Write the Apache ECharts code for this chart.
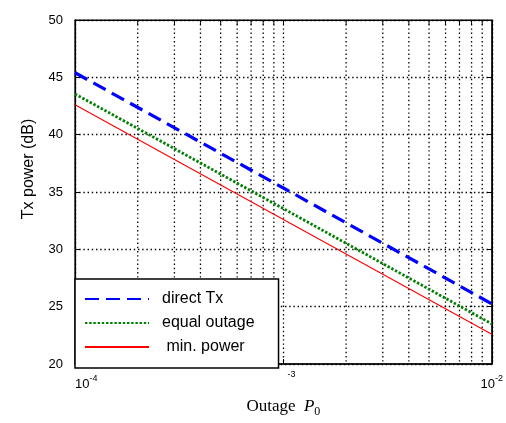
<!DOCTYPE html>
<html>
<head>
<meta charset="utf-8">
<script src="https://cdn.jsdelivr.net/npm/echarts@6/dist/echarts.min.js"></script>
<style>html,body{margin:0;padding:0;background:#fff}#c{width:506px;height:423px}</style>
</head>
<body>
<div id="c"></div>
<script>
// outage values (log axis) and Tx power in dB
const p0 = [1e-4, 1e-3, 1e-2];
const directTx = [45.4, 35.35, 25.25];
const equalOutage = [43.55, 33.55, 23.5];
const minPower = [42.6, 32.6, 22.6];
const minorGrid = [2e-4, 3e-4, 4e-4, 5e-4, 6e-4, 7e-4, 8e-4, 9e-4, 2e-3, 3e-3, 4e-3, 5e-3, 6e-3, 7e-3, 8e-3, 9e-3];
const yTicks = [20, 25, 30, 35, 40, 45, 50];

const yMin = yTicks[0], yMax = yTicks[yTicks.length - 1];
const pairs = ys => p0.map((x, i) => [x, ys[i]]);
const dots = { type: [1.4, 2.8], color: '#000', width: 1.3 };

function tickLabel(v){
  const e = Math.round(Math.log10(v));
  if (e === -3) return '{mid|-3}';
  return '{b|10}{sup|' + e + '}';
}

// dotted vertical grid at the log minor positions
function minorLine(params, api){
  const v = api.value(0);
  const a = api.coord([v, yMax]);
  const b = api.coord([v, yMin]);
  const tick = 5;
  return {
    type: 'group',
    children: [
      { type: 'line', shape: { x1: a[0], y1: a[1], x2: b[0], y2: b[1] },
        style: { stroke: '#000', lineWidth: dots.width, lineDash: dots.type } },
      { type: 'line', shape: { x1: a[0], y1: a[1], x2: a[0], y2: a[1] + tick },
        style: { stroke: '#000', lineWidth: 1 } }
    ]
  };
}

const c = echarts.init(document.getElementById('c'));
c.setOption({
  animation: false,
  grid: { left: 75, right: 9, top: 20, bottom: 56, show: true, borderColor: '#000', borderWidth: 1.2 },
  legend: {
    orient: 'vertical', left: 75, top: 279,
    padding: [12, 24, 13, 9], itemWidth: 64, itemHeight: 14, itemGap: 8,
    backgroundColor: '#fff', borderColor: '#000', borderWidth: 1.5, borderRadius: 0,
    itemStyle: { opacity: 0 },
    textStyle: { fontFamily: 'Liberation Sans', fontSize: 16, color: '#000', padding: [0, 0, 0, 8] },
    data: ['direct Tx', 'equal outage', ' min. power']
  },
  xAxis: [{
    type: 'log', logBase: 10, min: 1e-4, max: 1e-2,
    name: 'Outage  {i|P}{sub|0}', nameLocation: 'middle', nameGap: 32,
    nameTextStyle: {
      fontFamily: 'Liberation Serif', fontSize: 17, color: '#000',
      rich: {
        i: { fontFamily: 'Liberation Serif', fontSize: 17, fontStyle: 'italic', color: '#000' },
        sub: { fontFamily: 'Liberation Serif', fontSize: 12, color: '#000', padding: [10, 0, 0, 0] }
      }
    },
    axisLine: { lineStyle: { color: '#000', width: 1.5 } },
    axisTick: { inside: true, length: 5, lineStyle: { color: '#000' } },
    axisLabel: {
      margin: 6, alignMinLabel: 'left', formatter: tickLabel,
      rich: {
        b: { fontFamily: 'Liberation Sans', fontSize: 13, color: '#000', padding: [8, 0, 0, 0] },
        sup: { fontFamily: 'Liberation Sans', fontSize: 9, color: '#000', padding: [0, 0, 4, 0] },
        mid: { fontFamily: 'Liberation Sans', fontSize: 9, color: '#000', padding: [0, 0, 4, 16] }
      }
    },
    splitLine: { show: true, lineStyle: dots }
  }, {
    type: 'log', logBase: 10, min: 1e-4, max: 1e-2, position: 'top',
    axisLine: { lineStyle: { color: '#000' } },
    axisTick: { inside: true, length: 5, lineStyle: { color: '#000' } },
    axisLabel: { show: false }, splitLine: { show: false }
  }],
  yAxis: [{
    type: 'value', min: yMin, max: yMax, interval: 5,
    name: 'Tx power (dB)', nameLocation: 'middle', nameGap: 38,
    nameTextStyle: { fontFamily: 'Liberation Sans', fontSize: 16, color: '#000', padding: [0, 0, 0, 46] },
    axisLine: { show: true, lineStyle: { color: '#000', width: 1.2 } },
    axisTick: { show: true, inside: true, length: 5, lineStyle: { color: '#000' } },
    axisLabel: { margin: 12, fontFamily: 'Liberation Sans', fontSize: 13, color: '#000' },
    splitLine: { show: true, lineStyle: dots }
  }, {
    type: 'value', min: yMin, max: yMax, interval: 5, position: 'right',
    axisLine: { show: true, lineStyle: { color: '#000' } },
    axisTick: { show: true, inside: true, length: 5, lineStyle: { color: '#000' } },
    axisLabel: { show: false }, splitLine: { show: false }
  }],
  series: [
    { type: 'custom', silent: true, z: 1, clip: false, renderItem: minorLine,
      data: minorGrid.map(v => [v]), encode: { x: 0 } },
    { name: 'direct Tx', type: 'line', data: pairs(directTx), showSymbol: false, symbol: 'none',
      lineStyle: { color: '#0000ff', width: 3.2, type: [14, 7] }, itemStyle: { color: '#0000ff' }, z: 5 },
    { name: 'equal outage', type: 'line', data: pairs(equalOutage), showSymbol: false, symbol: 'none',
      lineStyle: { color: '#008000', width: 2.8, type: [2.4, 1.8] }, itemStyle: { color: '#008000' }, z: 4 },
    { name: ' min. power', type: 'line', data: pairs(minPower), showSymbol: false, symbol: 'none',
      lineStyle: { color: '#ff0000', width: 1.1 }, itemStyle: { color: '#ff0000' }, z: 3 }
  ]
});
</script>
</body>
</html>
